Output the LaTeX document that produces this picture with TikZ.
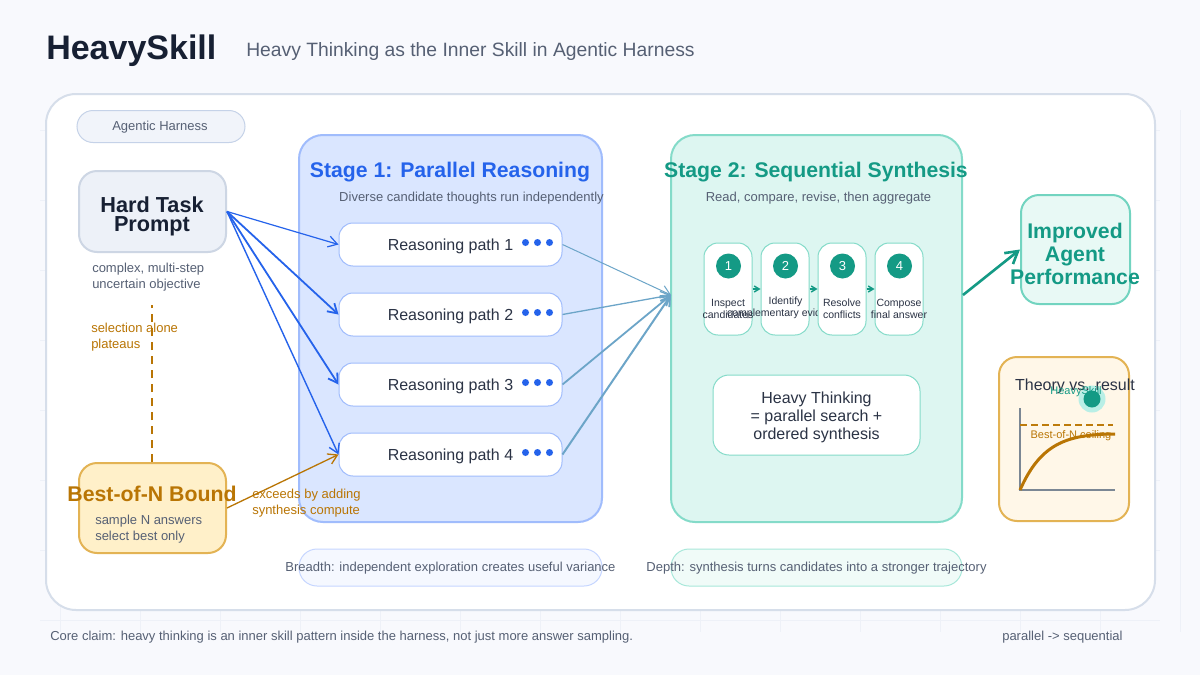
\documentclass[tikz,border=0pt]{standalone}
\usepackage{fontspec}
\setmainfont{Liberation Sans}
\usetikzlibrary{arrows.meta}

\definecolor{pagebg}{HTML}{F8F9FD}
\definecolor{gridline}{HTML}{EEF1F8}
\definecolor{inkdark}{HTML}{172033}
\definecolor{inktext}{HTML}{2B3345}
\definecolor{inkgray}{HTML}{566074}
\definecolor{panelline}{HTML}{D6DEEA}
\definecolor{harnessfill}{HTML}{F1F4FA}
\definecolor{harnessedge}{HTML}{C5D2E8}
\definecolor{taskfill}{HTML}{EDF1F8}
\definecolor{taskedge}{HTML}{CDD6E4}
\definecolor{blueline}{HTML}{2563EB}
\definecolor{bluefill}{HTML}{DAE6FF}
\definecolor{blueedge}{HTML}{A0BCFC}
\definecolor{bluenote}{HTML}{F5F8FF}
\definecolor{bluenoteedge}{HTML}{C6D6FF}
\definecolor{tealline}{HTML}{149A85}
\definecolor{tealfill}{HTML}{DDF6F1}
\definecolor{tealedge}{HTML}{84DBC9}
\definecolor{tealnote}{HTML}{F0FBF8}
\definecolor{tealnoteedge}{HTML}{A8E8DA}
\definecolor{resultfill}{HTML}{E8F9F5}
\definecolor{resultedge}{HTML}{72D4C0}
\definecolor{halo}{HTML}{B9EFE6}
\definecolor{mixline}{HTML}{6CA5C8}
\definecolor{amberline}{HTML}{B97504}
\definecolor{amberedge}{HTML}{E3B354}
\definecolor{boundfill}{HTML}{FFF0C9}
\definecolor{theoryfill}{HTML}{FFF7E8}
\definecolor{axisgray}{HTML}{7B8794}

\def\px{.75pt}
\newcommand{\tsize}[2]{\fontsize{\dimexpr#1pt*3/4\relax}{\dimexpr#2pt*3/4\relax}\selectfont}

\tikzset{
    box/.style={draw, rectangle, inner sep=0pt, align=center},
    plain/.style={inner sep=0pt, align=center},
    flat/.style={inner sep=0pt, align=left, anchor=west},
    pathbox/.style={box, fill=white, draw=blueedge, line width=1*\px, rounded corners=14*\px,
        minimum width=223*\px, minimum height=43*\px, text=inktext, font=\tsize{16}{19},
        text height=16*\px, text depth=3.4*\px},
    card/.style={box, fill=white, draw=tealedge, line width=1*\px, rounded corners=14*\px,
        minimum width=48*\px, minimum height=92*\px},
    badge/.style={circle, fill=tealline, text=white, inner sep=0pt, minimum size=25*\px, font=\tsize{13}{15}},
    cardtext/.style={plain, text=inktext, font=\tsize{10.5}{12}},
    dot/.style={circle, fill=blueline, inner sep=0pt, minimum size=7*\px},
    fromtask/.style={-{Straight Barb[length=9*\px, width=11*\px]}, blueline},
    tostage/.style={-{Straight Barb[length=9*\px, width=11*\px]}, mixline},
    stepflow/.style={-{Straight Barb[length=5*\px, width=6*\px]}, tealline, line width=1.4*\px},
}

\begin{document}
\begin{tikzpicture}[x=.75pt, y=-.75pt]
\useasboundingbox (0,0) rectangle (1200,675);
\fill[pagebg] (0,0) rectangle (1200,675);

\foreach \xgrid in {60,140,...,1180} \draw[gridline, line width=1*\px] (\xgrid,110) -- (\xgrid,632);
\foreach \ygrid in {130,200,...,620} \draw[gridline, line width=1*\px] (40,\ygrid) -- (1160,\ygrid);

\node[flat, text=inkdark, font=\tsize{34}{40}\bfseries] (title) at (46,51) {HeavySkill};
\node[flat, text=inkgray, font=\tsize{19.3}{23}] (subtitle) at (246,52) {Heavy Thinking as the Inner Skill in Agentic Harness};

\node[box, fill=white, draw=panelline, line width=2*\px, rounded corners=30*\px,
    minimum width=1109*\px, minimum height=516*\px] (panel) at (600.5,352) {};
\node[box, fill=harnessfill, draw=harnessedge, line width=1*\px, rounded corners=16*\px,
    minimum width=168*\px, minimum height=32*\px] (harness) at (161,126.5) {};
\node[plain, text=inkgray, font=\tsize{13}{15}] (harnesstext) at (160,127.5) {Agentic Harness};

% stages
\node[box, fill=bluefill, draw=blueedge, line width=2*\px, rounded corners=24*\px,
    minimum width=303*\px, minimum height=387*\px] (stageone) at (450.5,328.5) {};
\node[plain, text=blueline, font=\tsize{21.2}{25}\bfseries] (stageonetitle) at (450,172) {Stage 1: Parallel Reasoning};
\node[plain, text=inkgray, font=\tsize{13}{15}] (stageonesub) at (471.5,198.5) {Diverse candidate thoughts run independently};

\node[box, fill=tealfill, draw=tealedge, line width=2*\px, rounded corners=24*\px,
    minimum width=291*\px, minimum height=387*\px] (stagetwo) at (816.5,328.5) {};
\node[plain, text=tealline, font=\tsize{21.2}{25}\bfseries] (stagetwotitle) at (816,172) {Stage 2: Sequential Synthesis};
\node[plain, text=inkgray, font=\tsize{13}{15}] (stagetwosub) at (818.5,198.5) {Read, compare, revise, then aggregate};

% left column
\node[box, fill=taskfill, draw=taskedge, line width=2*\px, rounded corners=18*\px,
    minimum width=147*\px, minimum height=81*\px] (task) at (152.5,211.5) {};
\node[plain, text=inkdark, font=\tsize{21.7}{19.5}\bfseries] (tasktext) at (152,216.5) {Hard Task\\Prompt};
\node[flat, text=inkgray, font=\tsize{13}{16}] (tasknote) at (92,277) {complex, multi-step\\uncertain objective};
\node[flat, text=amberline, font=\tsize{13}{16}] (plateau) at (91,337) {selection alone\\plateaus};

\node[box, fill=boundfill, draw=amberedge, line width=2*\px, rounded corners=18*\px,
    minimum width=147*\px, minimum height=90*\px] (bound) at (152.5,508) {};
\node[plain, text=amberline, font=\tsize{21.3}{25}\bfseries] (boundtitle) at (152,494) {Best-of-N Bound};
\node[flat, text=inkgray, font=\tsize{13}{16}] (boundnote) at (95,529) {sample N answers\\select best only};
\node[flat, text=amberline, font=\tsize{13}{16}] (exceeds) at (252,503) {exceeds by adding\\synthesis compute};

\coordinate (plateautop) at (152,305);
\draw[amberline, line width=2*\px, dash pattern=on 8*\px off 6*\px] (bound.north -| plateautop) -- (plateautop);

% reasoning paths
\node[pathbox] (pathone) at (450.5,244.5) {Reasoning path 1};
\node[pathbox] (pathtwo) at (450.5,314.5) {Reasoning path 2};
\node[pathbox] (paththree) at (450.5,384.5) {Reasoning path 3};
\node[pathbox] (pathfour) at (450.5,454.5) {Reasoning path 4};

\node[dot] (dota) at (525.5,242.5) {};
\node[dot] (dotb) at (537.5,242.5) {};
\node[dot] (dotc) at (549.5,242.5) {};
\node[dot] (dotd) at (525.5,312.5) {};
\node[dot] (dote) at (537.5,312.5) {};
\node[dot] (dotf) at (549.5,312.5) {};
\node[dot] (dotg) at (525.5,382.5) {};
\node[dot] (doth) at (537.5,382.5) {};
\node[dot] (doti) at (549.5,382.5) {};
\node[dot] (dotj) at (525.5,452.5) {};
\node[dot] (dotk) at (537.5,452.5) {};
\node[dot] (dotl) at (549.5,452.5) {};

\draw[fromtask, line width=1.2*\px] (task.east) -- (pathone.west);
\draw[fromtask, line width=1.8*\px] (task.east) -- (pathtwo.west);
\draw[fromtask, line width=1.8*\px] (task.east) -- (paththree.west);
\draw[fromtask, line width=1.4*\px] (task.east) -- (pathfour.west);
\draw[-{Straight Barb[length=9*\px, width=11*\px]}, amberline, line width=1.3*\px] (bound.east) -- (pathfour.west);

\coordinate (stagein) at (671,295);
\draw[tostage, line width=1*\px] (pathone.east) -- (stagein);
\draw[tostage, line width=1.3*\px] (pathtwo.east) -- (stagein);
\draw[tostage, line width=1.8*\px] (paththree.east) -- (stagein);
\draw[tostage, line width=2*\px] (pathfour.east) -- (stagein);

% synthesis steps
\node[card] (cardone) at (728,289) {};
\node[badge] (badgeone) at (728.5,266) {1};
\node[cardtext] (stepone) at (728,309) {Inspect\\candidates};
\node[card] (cardtwo) at (785,289) {};
\node[badge] (badgetwo) at (785.5,266) {2};
\node[cardtext] (steptwo) at (785.5,308) {Identify\\complementary evidence};
\node[card] (cardthree) at (842,289) {};
\node[badge] (badgethree) at (842.5,266) {3};
\node[cardtext] (stepthree) at (842,309) {Resolve\\conflicts};
\node[card] (cardfour) at (899,289) {};
\node[badge] (badgefour) at (899.5,266) {4};
\node[cardtext] (stepfour) at (899,309) {Compose\\final answer};

\draw[stepflow] (cardone.east) -- (cardtwo.west);
\draw[stepflow] (cardtwo.east) -- (cardthree.west);
\draw[stepflow] (cardthree.east) -- (cardfour.west);

\node[box, fill=white, draw=tealedge, line width=1*\px, rounded corners=16*\px,
    minimum width=207*\px, minimum height=80*\px] (formula) at (816.5,415) {};
\node[plain, text=inktext, font=\tsize{16}{18}] (formulatext) at (816.5,417.5) {Heavy Thinking\\= parallel search +\\ordered synthesis};

% result
\node[box, fill=resultfill, draw=resultedge, line width=2*\px, rounded corners=18*\px,
    minimum width=109*\px, minimum height=109*\px] (improved) at (1075.5,249.5) {};
\node[plain, text=tealline, font=\tsize{21.2}{23}\bfseries] (improvedtext) at (1075,254) {Improved\\Agent\\Performance};
\draw[-{Straight Barb[length=12*\px, width=14*\px]}, tealline, line width=2.6*\px] (stagetwo.east |- stagein) -- (improved.west);

% chart
\node[box, fill=theoryfill, draw=amberedge, line width=2*\px, rounded corners=18*\px,
    minimum width=130*\px, minimum height=164*\px] (theory) at (1064,439) {};
\draw[axisgray, line width=2*\px] (1020,408) -- (1020,490) -- (1115,490);
\draw[amberline!90!amberedge, line width=2*\px, dash pattern=on 7*\px off 4*\px] (1020,425) -- (1113,425);
\draw[amberline, line width=3*\px] (1020,490) .. controls (1040,445) and (1065,434) .. (1115,434);
\fill[halo] (1092,399) circle (13.5);
\fill[tealline] (1092,399) circle (8.5);
\node[plain, text=inktext, font=\tsize{16}{18}] (theorytitle) at (1075,386) {Theory vs. result};
\node[plain, text=tealline, font=\tsize{11}{13}] (heavylabel) at (1076,391.5) {HeavySkill};
\node[plain, text=amberline, font=\tsize{11}{13}] (ceiling) at (1071,435.5) {Best-of-N ceiling};

% bottom notes
\node[box, fill=bluenote, draw=bluenoteedge, line width=1*\px, rounded corners=18*\px,
    minimum width=303*\px, minimum height=37*\px] (breadthpill) at (450.5,567.5) {};
\node[plain, text=inkgray, font=\tsize{13}{15}] (breadth) at (450.5,568.5) {Breadth: independent exploration creates useful variance};
\node[box, fill=tealnote, draw=tealnoteedge, line width=1*\px, rounded corners=18*\px,
    minimum width=291*\px, minimum height=37*\px] (depthpill) at (816.5,567.5) {};
\node[plain, text=inkgray, font=\tsize{13}{15}] (depth) at (816.5,568.5) {Depth: synthesis turns candidates into a stronger trajectory};

\node[flat, text=inkgray, font=\tsize{13}{15}] (claim) at (50,637) {Core claim: heavy thinking is an inner skill pattern inside the harness, not just more answer sampling.};
\node[flat, text=inkgray, font=\tsize{13}{15}] (direction) at (1002,637) {parallel -> sequential};
\end{tikzpicture}
\end{document}
